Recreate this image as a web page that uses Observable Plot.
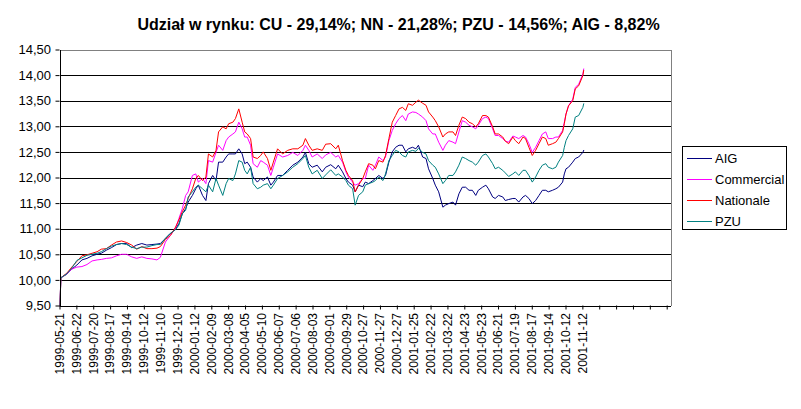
<!DOCTYPE html>
<html>
<head>
<meta charset="utf-8">
<script src="https://cdn.jsdelivr.net/npm/d3@7"></script>
<script src="https://cdn.jsdelivr.net/npm/@observablehq/plot@0.6"></script>
<style>
  html, body { margin: 0; padding: 0; background: white; }
  #wrap { position: relative; width: 801px; height: 409px; font-family: "Liberation Sans", Arial, sans-serif; }
  #title { position: absolute; left: 0; top: 16px; width: 797px; text-align: center; font-weight: bold; font-size: 16px; line-height: 18px; color: black; white-space: nowrap; }
  #legend { position: absolute; left: 682px; top: 146px; width: 105px; height: 84px; box-sizing: border-box; border: 1px solid black; background: white; padding-top: 1px; }
  .row { height: 21px; display: flex; align-items: center; font-size: 13px; color: black; white-space: nowrap; }
  .row svg { margin-left: 4px; margin-right: 3px; }
  #chart { position: absolute; left: 0; top: 0; }
</style>
</head>
<body>
<div id="wrap">
  <div id="chart"></div>
  <div id="title"></div>
  <div id="legend"></div>
</div>
<script>
const titleText = "Udział w rynku: CU - 29,14%; NN - 21,28%; PZU - 14,56%; AIG - 8,82%";

const seriesNames = ["AIG", "Commercial", "Nationale", "PZU"];
const seriesColors = ["#000080", "#FF00FF", "#FF0000", "#008080"];

const tickLabels = ["1999-05-21","1999-06-22","1999-07-20","1999-08-17","1999-09-14","1999-10-12","1999-11-10","1999-12-10",
  "2000-01-12","2000-02-09","2000-03-08","2000-04-05","2000-05-10","2000-06-07","2000-07-06","2000-08-03","2000-09-01",
  "2000-09-29","2000-10-27","2000-11-27","2000-12-27","2001-01-25","2001-02-22","2001-03-22","2001-04-23","2001-05-23",
  "2001-06-21","2001-07-19","2001-08-17","2001-09-14","2001-10-12","2001-11-12"];

// trading-day index of each sampled point (category position on the x axis)
const days = [0,1,8,14,20,26,32,38,44,49,
  55,61,67,73,79,85,91,97,103,109,
  115,119,125,131,137,141,145,149,152,157,
  161,164,169,173,176,181,185,188,193,197,
  200,205,208,212,216,219,222,226,229,234,
  238,241,246,250,253,258,264,270,276,282,
  288,291,295,299,305,311,315,321,327,330,
  335,339,342,347,350,354,359,362,366,371,
  374,378,383,386,390,394,398,402,406,410,
  413,418,422,425,430,434,437,442,445,449,
  454,457,461,466,469,473,477,481,485,489,
  493,496,501,505,508,513,516,520,525,528,
  532,537,540,544,549,552,556,560,564,568,
  572,576,579,584,588,591,596,598,600,603,
  608,611,615,620,621];

const aig = [9.50,10.05,10.12,10.22,10.30,10.40,10.43,10.48,10.51,10.53,
  10.59,10.64,10.70,10.72,10.72,10.64,10.69,10.72,10.69,10.70,
  10.71,10.72,10.82,10.92,11.00,11.11,11.30,11.40,11.53,11.66,
  11.79,11.86,11.66,11.56,11.89,12.05,11.95,12.31,12.31,12.41,
  12.47,12.47,12.47,12.57,12.47,12.28,12.31,12.21,12.02,11.92,
  11.99,11.95,12.02,11.86,11.92,12.05,12.05,12.15,12.25,12.31,
  12.41,12.50,12.28,12.21,12.25,12.12,12.21,12.26,12.18,12.25,
  12.12,11.99,11.92,11.86,11.73,11.86,11.83,11.92,11.89,11.95,
  11.99,12.05,11.99,12.05,12.31,12.51,12.60,12.64,12.64,12.51,
  12.57,12.60,12.57,12.64,12.41,12.38,12.18,11.99,11.86,11.73,
  11.43,11.47,11.50,11.53,11.47,11.69,11.82,11.82,11.76,11.76,
  11.66,11.76,11.82,11.86,11.79,11.63,11.60,11.66,11.63,11.56,
  11.58,11.60,11.60,11.53,11.63,11.66,11.60,11.50,11.56,11.66,
  11.76,11.76,11.73,11.76,11.79,11.82,11.92,12.08,12.18,12.21,
  12.31,12.38,12.41,12.50,12.54];

const commercial = [9.50,10.05,10.13,10.22,10.26,10.27,10.31,10.38,10.40,10.41,
  10.43,10.44,10.48,10.51,10.51,10.46,10.43,10.46,10.43,10.42,
  10.40,10.45,10.75,10.88,11.02,11.21,11.40,11.66,11.73,12.05,
  12.08,11.92,11.99,11.89,12.34,12.31,12.50,12.64,12.54,12.73,
  12.80,12.86,12.90,13.09,12.96,12.80,12.80,12.64,12.28,12.21,
  12.34,12.31,12.25,12.05,12.21,12.47,12.41,12.44,12.50,12.44,
  12.54,12.64,12.54,12.41,12.47,12.38,12.45,12.50,12.41,12.44,
  12.31,12.12,12.02,11.92,11.86,11.89,11.99,11.99,12.25,12.15,
  12.25,12.41,12.34,12.41,12.73,12.93,13.06,13.16,13.22,13.12,
  13.25,13.29,13.28,13.25,13.19,13.12,12.96,12.86,12.86,12.70,
  12.54,12.64,12.73,12.70,12.67,12.90,13.12,13.09,13.03,13.00,
  12.96,13.03,13.16,13.19,13.16,12.96,12.83,12.83,12.77,12.72,
  12.70,12.82,12.80,12.77,12.83,12.80,12.67,12.50,12.60,12.73,
  12.86,12.90,12.77,12.77,12.80,12.80,12.93,13.09,13.25,13.41,
  13.54,13.77,13.83,14.03,14.13];

const nationale = [9.50,10.05,10.14,10.26,10.37,10.48,10.50,10.53,10.56,10.61,
  10.62,10.69,10.75,10.77,10.74,10.69,10.61,10.66,10.62,10.62,
  10.63,10.66,10.80,10.88,11.04,11.18,11.34,11.47,11.60,11.79,
  11.99,12.05,11.95,12.02,12.47,12.41,12.54,12.90,13.00,12.96,
  13.06,13.09,13.16,13.35,13.09,12.90,12.86,12.77,12.41,12.38,
  12.44,12.51,12.38,12.15,12.31,12.57,12.47,12.54,12.57,12.57,
  12.64,12.77,12.64,12.54,12.57,12.54,12.66,12.67,12.57,12.64,
  12.34,12.15,12.05,11.95,11.73,11.86,11.99,12.12,12.28,12.25,
  12.18,12.34,12.31,12.44,12.77,13.09,13.22,13.35,13.38,13.32,
  13.45,13.42,13.48,13.52,13.46,13.42,13.29,13.19,13.12,13.00,
  12.80,12.86,12.90,12.90,12.83,13.03,13.19,13.16,13.09,13.06,
  13.00,13.06,13.22,13.22,13.19,13.00,12.86,12.86,12.80,12.72,
  12.67,12.80,12.73,12.67,12.80,12.77,12.60,12.44,12.54,12.67,
  12.80,12.77,12.64,12.67,12.70,12.77,12.90,13.06,13.25,13.41,
  13.51,13.74,13.80,14.00,14.10];

const pzu = [9.50,10.05,10.13,10.24,10.39,10.44,10.49,10.51,10.53,10.56,
  10.62,10.67,10.70,10.72,10.70,10.65,10.62,10.65,10.65,10.68,
  10.70,10.70,10.82,10.92,10.99,11.08,11.30,11.37,11.63,11.73,
  11.82,11.86,11.79,11.73,11.86,11.73,11.99,11.86,11.66,11.89,
  11.99,11.95,12.08,12.34,12.31,12.15,12.08,12.21,11.89,11.79,
  11.82,11.86,11.89,11.79,11.86,11.99,12.05,12.12,12.21,12.28,
  12.38,12.44,12.21,12.08,12.15,11.99,12.06,12.16,12.05,12.08,
  12.02,11.95,11.86,11.79,11.47,11.66,11.73,11.86,11.89,11.92,
  11.95,12.02,11.95,12.08,12.34,12.44,12.54,12.51,12.44,12.41,
  12.51,12.54,12.52,12.58,12.50,12.47,12.34,12.25,12.21,12.08,
  11.89,11.95,12.05,12.05,12.12,12.25,12.41,12.38,12.34,12.31,
  12.25,12.31,12.44,12.47,12.41,12.28,12.18,12.21,12.15,12.10,
  12.03,12.08,12.12,12.05,12.15,12.15,12.05,11.92,12.02,12.15,
  12.25,12.28,12.21,12.18,12.21,12.31,12.44,12.60,12.73,12.83,
  12.96,13.19,13.22,13.38,13.45];

const yTicks = [9.5,10,10.5,11,11.5,12,12.5,13,13.5,14,14.5];
const labelStep = 20;
const xMax = 720;
const xFrame = 725;

const seriesValues = [aig, commercial, nationale, pzu];
const table = [];
seriesNames.forEach((name, s) => {
  days.forEach((d, i) => table.push({series: name, day: d, value: seriesValues[s][i]}));
});
const xTicks = d3.range(0, xMax + 1, labelStep);

const chart = Plot.plot({
  width: 801,
  height: 409,
  marginLeft: 59.5,
  marginRight: 801 - 666.7,
  marginTop: 49.5,
  marginBottom: 409 - 305.5,
  style: {fontFamily: "'Liberation Sans', Arial, sans-serif", color: "black", background: "white", overflow: "visible"},
  x: {domain: [0, xMax]},
  y: {domain: [9.5, 14.5]},
  color: {domain: seriesNames, range: seriesColors},
  marks: [
    Plot.ruleY(yTicks.filter(v => v > 9.5 && v < 14.5), {y: d => d, x1: 0, x2: xFrame, stroke: "black", strokeWidth: 1, shapeRendering: "crispEdges"}),
    Plot.ruleY([14.5], {x1: 0, x2: xFrame, stroke: "#808080", strokeWidth: 1, shapeRendering: "crispEdges"}),
    Plot.ruleX([xFrame], {y1: 9.5, y2: 14.5, stroke: "#808080", strokeWidth: 1, shapeRendering: "crispEdges"}),
    Plot.line(table, {x: "day", y: "value", z: "series", stroke: "series", strokeWidth: 1, strokeLinejoin: "miter", curve: "linear"}),
    Plot.ruleX([0], {y1: 9.5, y2: 14.5, stroke: "black", strokeWidth: 1, shapeRendering: "crispEdges"}),
    Plot.ruleY([9.5], {x1: 0, x2: xFrame, stroke: "black", strokeWidth: 1, shapeRendering: "crispEdges"}),
    Plot.axisX({ticks: xTicks, tickFormat: d => tickLabels[d / labelStep] ?? "", tickRotate: -90, tickSize: 4, tickPadding: 3, fontSize: 12, label: null, stroke: "black"}),
    Plot.axisY({ticks: yTicks, tickFormat: d => d.toFixed(2).replace(".", ","), tickSize: 4, tickPadding: 5, fontSize: 13, label: null, stroke: "black"})
  ]
});
document.getElementById("chart").appendChild(chart);

document.getElementById("title").textContent = titleText;
const legend = document.getElementById("legend");
seriesNames.forEach((name, i) => {
  const row = document.createElement("div");
  row.className = "row";
  row.innerHTML = `<svg width="25" height="3"><line x1="0" x2="25" y1="1.5" y2="1.5" stroke="${seriesColors[i]}" stroke-width="1"/></svg><span>${name}</span>`;
  legend.appendChild(row);
});
</script>
</body>
</html>
